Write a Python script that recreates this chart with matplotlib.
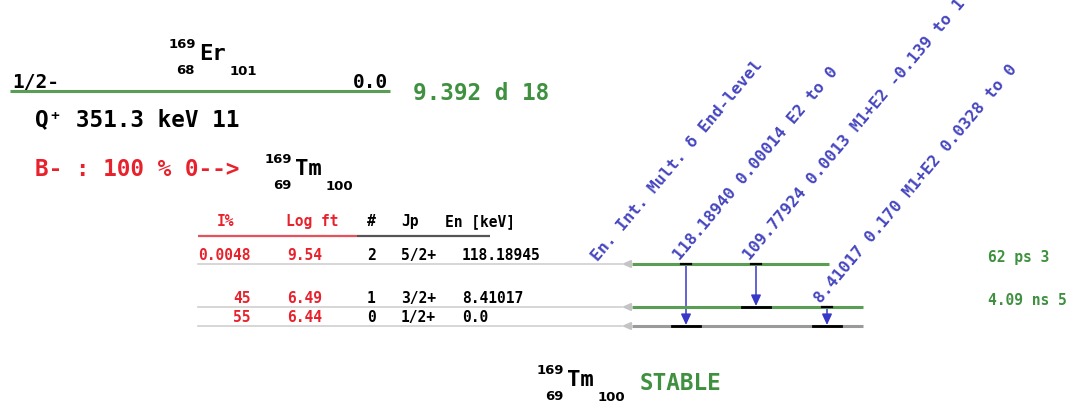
"""
Decay scheme: 169Er (1/2-, 9.392 d) beta- decay to levels of 169Tm.
"""

import matplotlib.pyplot as plt
from matplotlib.patches import FancyArrowPatch

MONO = "DejaVu Sans Mono"
GREEN = "#3f9140"
LEVEL_GREEN = "#5a9e56"
RED = "#e8222c"
BLUE = "#3838c8"
LABEL_BLUE = "#4646c0"
GRAY = "#9a9a9a"

# ---- parent ----
parent_spin = "1/2-"
parent_energy = "0.0"
parent_halflife = "9.392 d 18"
q_value = "351.3 keV 11"
decay_mode = "B- : 100 % 0-->"

# ---- daughter levels (top to bottom) ----
level_index = ["2", "1", "0"]
level_spin = ["5/2+", "3/2+", "1/2+"]
level_energy = ["118.18945", "8.41017", "0.0"]
level_halflife = ["62 ps 3", "4.09 ns 5", ""]
beta_intensity = ["0.0048", "45", "55"]
log_ft = ["9.54", "6.49", "6.44"]

# ---- gammas ----
gamma_energy = ["118.18940", "109.77924", "8.41017"]
gamma_intensity = ["0.00014", "0.0013", "0.170"]
gamma_mult = ["E2", "M1+E2", "M1+E2"]
gamma_delta = ["", "-0.139", "0.0328"]
gamma_from = [0, 0, 1]
gamma_to = [2, 1, 2]

# drawing layout (pixels)
level_y = [265, 308, 327]
level_x_end = [829, 863, 863]
gamma_x = [686, 756, 827]

fig = plt.figure(figsize=(10.73, 4.06), dpi=100)
ax = fig.add_axes([0, 0, 1, 1])
ax.set_xlim(0, 1073)
ax.set_ylim(406, 0)
ax.axis("off")


def nuclide(x, y, a, z, n, sym, size=16):
    # element symbol with mass number, proton and neutron numbers around it
    ax.text(x, y, sym, fontsize=size, family=MONO, weight="bold", va="baseline")
    small = dict(fontsize=9.5, family="DejaVu Sans", weight="bold", va="baseline")
    ax.text(x - 3, y - 12, a, ha="right", **small)
    ax.text(x - 4, y + 14, z, ha="right", **small)
    sym_w = len(sym) * 0.602 * size * 100 / 72
    ax.text(x + sym_w + 4, y + 15, n, **small)


# parent level
nuclide(199, 60, "169", "68", "101", "Er")
ax.plot([10, 390], [92, 92], color=LEVEL_GREEN, lw=2.2, solid_capstyle="butt")
ax.text(12, 88, parent_spin, fontsize=14, family=MONO, weight="bold", va="baseline")
ax.text(388, 88, parent_energy, fontsize=14, family=MONO, weight="bold",
        va="baseline", ha="right")
ax.text(413, 100, parent_halflife, fontsize=16.3, family=MONO, weight="bold",
        color=GREEN, va="baseline")
ax.text(35, 126, "Q\u207a " + q_value, fontsize=16.3, family=MONO, weight="bold",
        va="baseline")
ax.text(35, 176, decay_mode, fontsize=16.3, family=MONO, weight="bold", color=RED,
        va="baseline")
nuclide(295, 175, "169", "69", "100", "Tm")

# table header
hdr_y = 226
hdr = dict(fontsize=10.5, family=MONO, weight="bold", va="baseline")
ax.text(225, hdr_y, "I%", color=RED, ha="center", **hdr)
ax.text(286, hdr_y, "Log ft", color=RED, **hdr)
ax.text(367, hdr_y, "#", **hdr)
ax.text(401, hdr_y, "Jp", **hdr)
ax.text(445, hdr_y, "En [keV]", **hdr)
ax.plot([198, 357], [237, 237], color="#e8505a", lw=1.6, solid_capstyle="butt")
ax.plot([357, 490], [237, 237], color="#555555", lw=1.6, solid_capstyle="butt")

# table rows and daughter levels
row_text_y = [260, 303, 322]
row = dict(fontsize=10.5, family=MONO, weight="bold", va="baseline")
for i in range(len(level_energy)):
    ty = row_text_y[i]
    ax.text(251, ty, beta_intensity[i], color=RED, ha="right", **row)
    ax.text(287, ty, log_ft[i], color=RED, **row)
    ax.text(367, ty, level_index[i], **row)
    ax.text(401, ty, level_spin[i], **row)
    ax.text(462, ty, level_energy[i], **row)

    y = level_y[i]
    ax.plot([198, 622], [y, y], color="#cfcfcf", lw=1.2)
    ax.annotate("", xy=(619, y), xytext=(634, y),
                arrowprops=dict(arrowstyle="-|>,head_length=0.5,head_width=0.22",
                                color="#c4c4c4", lw=1.4))
    lc = LEVEL_GREEN if level_halflife[i] else GRAY
    ax.plot([632, level_x_end[i]], [y, y], color=lc, lw=2.2, solid_capstyle="butt")
    if level_halflife[i]:
        ax.text(988, y - 3, level_halflife[i], color=GREEN, **row)

# gamma transitions
lab = dict(fontsize=11.8, family=MONO, weight="bold", color=LABEL_BLUE,
           rotation=50, rotation_mode="anchor", va="baseline", ha="left")
for k in range(len(gamma_energy)):
    x = gamma_x[k]
    y0 = level_y[gamma_from[k]]
    y1 = level_y[gamma_to[k]]
    ax.plot([x - 5, x + 5], [y0, y0], color="black", lw=1.6)
    ax.plot([x - 14, x + 14], [y1 - 0.5, y1 - 0.5], color="black", lw=2)
    ax.add_patch(FancyArrowPatch((x, y0), (x, y1 - 1),
                                 arrowstyle="-|>,head_length=0.65,head_width=0.3",
                                 color=BLUE, lw=1.1, mutation_scale=10,
                                 shrinkA=0, shrinkB=0))
    parts = [gamma_energy[k], gamma_intensity[k], gamma_mult[k]]
    if gamma_delta[k]:
        parts.append(gamma_delta[k])
    parts += ["to", level_index[gamma_to[k]]]
    ax.text(x - 6, y0 - 4, " ".join(parts), **lab)

ax.text(598, 262, "En. Int. Mult. \u03b4 End-level", **lab)

# daughter ground state
nuclide(567, 386, "169", "69", "100", "Tm")
ax.text(640, 390, "STABLE", fontsize=16.3, family=MONO, weight="bold", color=GREEN,
        va="baseline")

fig.savefig("out.png", dpi=100)
